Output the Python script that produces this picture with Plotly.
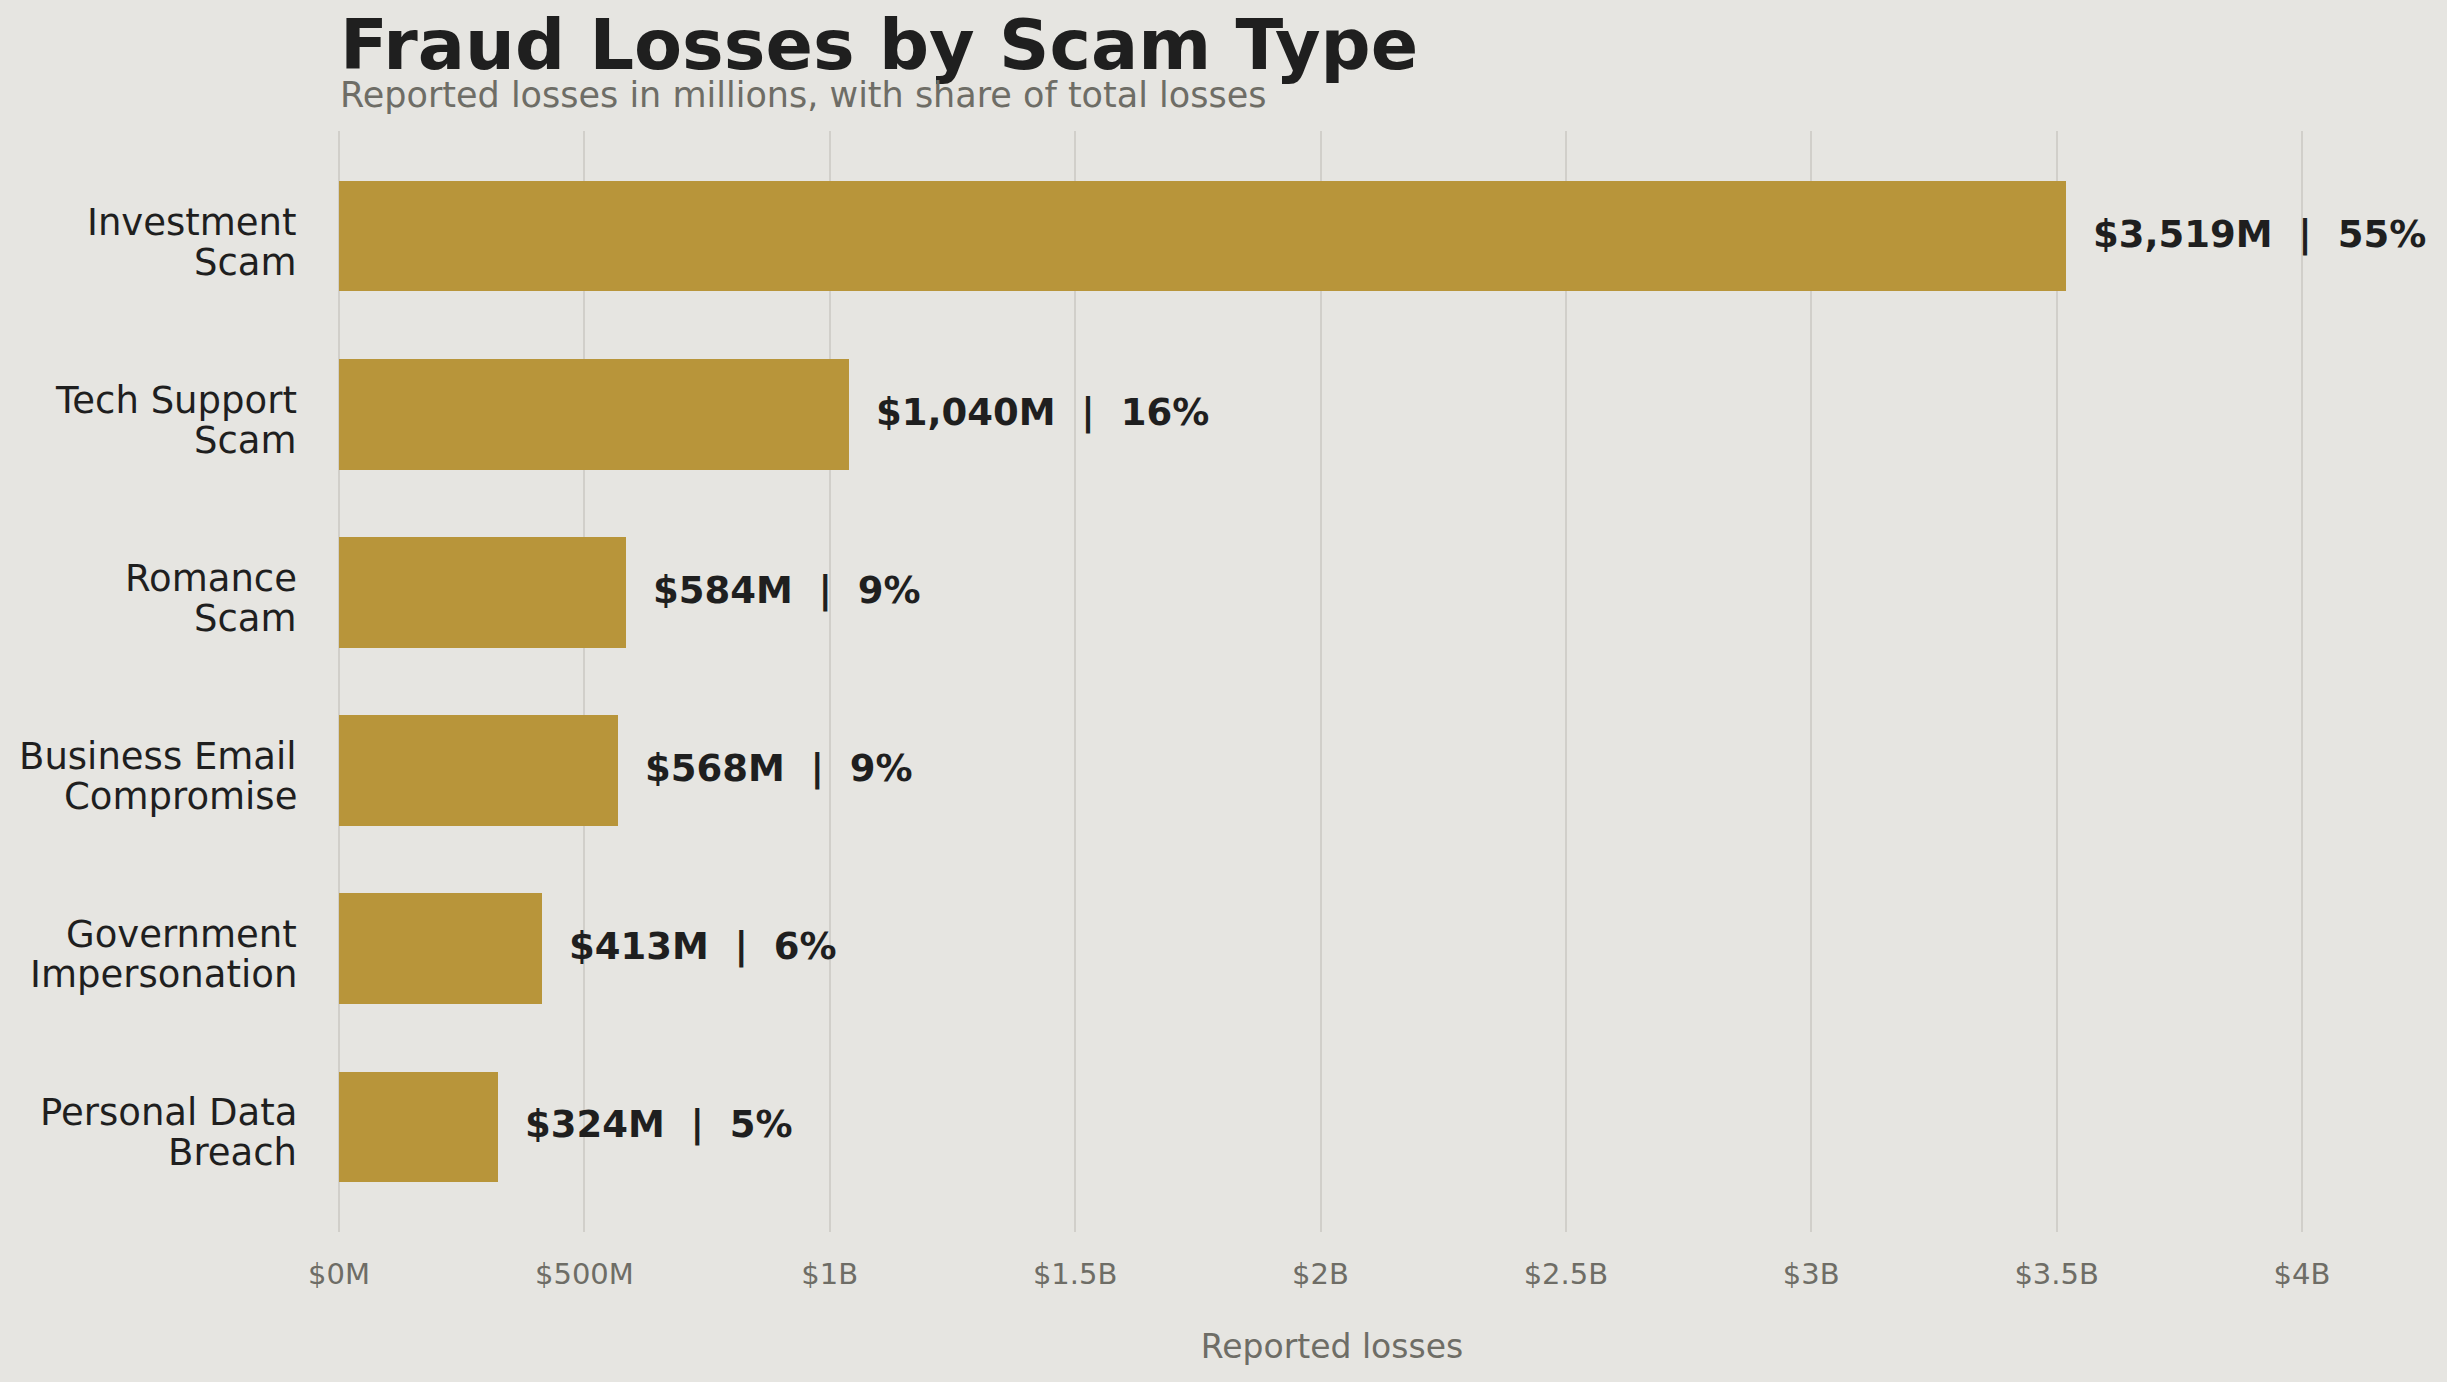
import plotly.graph_objects as go

categories = ["Investment Scam", "Tech Support Scam", "Romance Scam",
              "Business Email Compromise", "Government Impersonation", "Personal Data Breach"]
category_lines = [["Investment", "Scam"], ["Tech Support", "Scam"], ["Romance", "Scam"],
                  ["Business Email", "Compromise"], ["Government", "Impersonation"],
                  ["Personal Data", "Breach"]]
losses_m = [3519, 1040, 584, 568, 413, 324]
share_pct = [55, 16, 9, 9, 6, 5]
x_tickvals = [0, 500, 1000, 1500, 2000, 2500, 3000, 3500, 4000]
x_ticktext = ["$0M", "$500M", "$1B", "$1.5B", "$2B", "$2.5B", "$3B", "$3.5B", "$4B"]

BG = "#e6e5e1"
BAR = "#b8953a"
DARK = "#1f1f1f"
GREY = "#6e6d66"
GRID = "#d1cfca"
FONT = "DejaVu Sans"

W, H = 2447, 1382
ML, MR, MT, MB = 339, W - 2325, 131, H - 1232

fig = go.Figure()
fig.add_trace(go.Bar(
    x=losses_m, y=list(range(len(categories))), orientation="h",
    width=0.62, marker=dict(color=BAR, line=dict(width=0)),
    hovertext=categories, showlegend=False,
))

for i, (v, s) in enumerate(zip(losses_m, share_pct)):
    fig.add_annotation(
        x=v, y=i, xref="x", yref="y", text=f"<b>${v:,}M  |  {s}%</b>",
        showarrow=False, xanchor="left", yanchor="middle", xshift=25, yshift=2,
        font=dict(family=FONT, size=37, color=DARK),
    )

# category labels (two lines each, right-aligned left of the plot)
line_shifts = [14, -26]
for i, lines in enumerate(category_lines):
    for k, line in enumerate(lines):
        fig.add_annotation(
            x=0, y=i, xref="paper", yref="y", text=line,
            showarrow=False, xanchor="right", yanchor="middle",
            xshift=-40, yshift=line_shifts[k],
            font=dict(family=FONT, size=37, color=DARK),
        )

fig.add_annotation(
    x=0, y=1, xref="paper", yref="paper", text="<b>Fraud Losses by Scam Type</b>",
    showarrow=False, xanchor="left", yanchor="middle", yshift=86, xshift=-1,
    font=dict(family=FONT, size=70, color=DARK),
)
fig.add_annotation(
    x=0, y=1, xref="paper", yref="paper",
    text="Reported losses in millions, with share of total losses",
    showarrow=False, xanchor="left", yanchor="middle", yshift=36, xshift=-1,
    font=dict(family=FONT, size=35, color=GREY),
)

fig.update_layout(
    width=W, height=H,
    margin=dict(l=ML, r=MR, t=MT, b=MB, pad=0),
    paper_bgcolor=BG, plot_bgcolor=BG,
    font=dict(family=FONT, color=DARK),
    bargap=0,
    xaxis=dict(
        range=[0, 4046.85], tickvals=x_tickvals, ticktext=x_ticktext,
        showgrid=True, gridcolor=GRID, gridwidth=2,
        zeroline=True, zerolinecolor=GRID, zerolinewidth=2,
        showline=False, ticks="", ticklabelstandoff=22,
        tickfont=dict(family=FONT, size=29, color=GREY),
        title=dict(text="Reported losses", font=dict(family=FONT, size=33, color=GREY), standoff=44),
    ),
    yaxis=dict(
        range=[5.591, -0.591], tickvals=list(range(len(categories))),
        showticklabels=False,
        showgrid=False, zeroline=False, showline=False, ticks="",
    ),
)

fig.write_html(
    "out.html",
    config={"displayModeBar": False},
    post_script="document.body.style.margin='0';document.body.style.overflow='hidden';",
)
